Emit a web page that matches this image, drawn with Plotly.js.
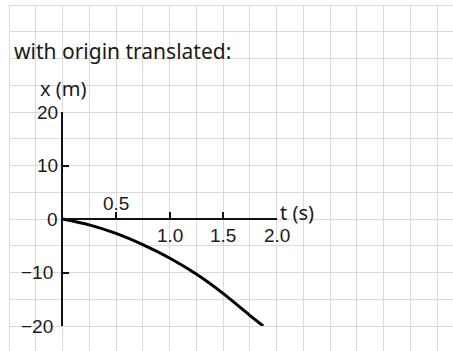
<!DOCTYPE html>
<html>
<head>
<meta charset="utf-8">
<script src="https://cdn.plot.ly/plotly-3.0.1.min.js"></script>
<style>
  html, body { margin: 0; padding: 0; background: #ffffff; }
  #chart { width: 453px; height: 351px; }
</style>
</head>
<body>
<div id="chart"></div>
<script>
// Position x (m) against time t (s), origin moved to the starting point
const timeS = [0, 0.25, 0.5, 0.75, 1.0, 1.25, 1.5, 1.75, 1.875];
const positionM = [0, -1.1, -2.7, -4.8, -7.3, -10.3, -13.9, -18.0, -20];

// Axis ticks and their labels
const tTicks = [0.5, 1.0, 1.5, 2.0];
const tTickText = ['0.5', '1.0', '1.5', '2.0'];
const xTicks = [20, 10, 0, -10, -20];
const xTickText = ['20', '10', '0', '\u221210', '\u221220'];

const titleText = 'with origin translated:';
const xTitle = 'x (m)';
const tTitle = 't (s)';

// Page geometry: square graph paper cells
const W = 453, H = 351;
const CELL = 26.75;
const gridLeft = 9, gridTop = 5;

// Data frame sits on the paper grid: t=0 two cells in, x=0 eight cells down
const x0px = gridLeft + 2 * CELL;          // t = 0
const x1px = x0px + 8 * CELL;              // t = 2
const y0px = gridTop + 8 * CELL;           // x = 0
const yTopPx = y0px - 4 * CELL;            // x = 20
const yBotPx = y0px + 4 * CELL;            // x = -20

const fx = p => p / W;
const fy = p => (H - p) / H;

const handFont = 'Noto Sans, DejaVu Sans, sans-serif';
const tickFont = { family: 'Liberation Sans, Arial, sans-serif', size: 19, color: '#1a1a1a' };

const annotations = [];
tTicks.forEach((t, i) => {
  const above = i === 0;
  annotations.push({
    xref: 'x2', yref: 'y2', x: t, y: 0,
    text: tTickText[i], showarrow: false,
    xanchor: 'center', yanchor: 'middle',
    yshift: above ? 16 : -16,
    font: tickFont
  });
});
xTicks.forEach((v, i) => {
  annotations.push({
    xref: 'x2', yref: 'y2', x: 0, y: v,
    text: xTickText[i], showarrow: false,
    xanchor: 'right', yanchor: 'middle',
    xshift: v < 0 ? -8 : -3,
    font: tickFont
  });
});
annotations.push({
  xref: 'x2', yref: 'y2', x: 0, y: 20,
  text: xTitle, showarrow: false,
  xanchor: 'center', yanchor: 'bottom', yshift: 8,
  font: { family: handFont, size: 20, color: '#1a1a1a' }
});
annotations.push({
  xref: 'x2', yref: 'y2', x: 2, y: 0,
  text: tTitle, showarrow: false,
  xanchor: 'left', yanchor: 'middle', xshift: 1, yshift: 7,
  font: { family: handFont, size: 20, color: '#1a1a1a' }
});

const gridColor = '#dadada';

const data = [
  // invisible anchor so the paper grid subplot is drawn
  { x: [0], y: [0], xaxis: 'x', yaxis: 'y', mode: 'markers',
    marker: { opacity: 0 }, hoverinfo: 'skip', showlegend: false },
  { x: timeS, y: positionM, xaxis: 'x2', yaxis: 'y2', mode: 'lines',
    line: { color: '#000000', width: 3, shape: 'spline', smoothing: 0.8 },
    cliponaxis: false, showlegend: false }
];

const layout = {
  width: W, height: H,
  margin: { l: 0, r: 0, t: 0, b: 0, pad: 0 },
  paper_bgcolor: '#ffffff',
  plot_bgcolor: 'rgba(0,0,0,0)',
  showlegend: false,
  title: {
    text: titleText,
    x: fx(14), xanchor: 'left', xref: 'paper',
    y: fy(52), yanchor: 'middle', yref: 'paper',
    font: { family: handFont, size: 21, color: '#1a1a1a' }
  },
  // graph paper
  xaxis: {
    domain: [fx(gridLeft), 1],
    range: [0, (W - gridLeft) / CELL],
    dtick: 1, tick0: 0,
    showgrid: true, gridcolor: gridColor, gridwidth: 1,
    zeroline: true, zerolinecolor: gridColor, zerolinewidth: 1,
    showticklabels: false, ticks: '', showline: false, fixedrange: true
  },
  yaxis: {
    domain: [0, fy(gridTop)],
    range: [(H - gridTop) / CELL, 0],
    dtick: 1, tick0: 0,
    showgrid: true, gridcolor: gridColor, gridwidth: 1,
    zeroline: true, zerolinecolor: gridColor, zerolinewidth: 1,
    showticklabels: false, ticks: '', showline: false, fixedrange: true
  },
  // data frame
  xaxis2: {
    domain: [fx(x0px), fx(x1px)],
    range: [0, 2],
    anchor: 'free', position: fy(y0px),
    showgrid: false, zeroline: false,
    showline: true, linecolor: '#111111', linewidth: 2,
    ticks: 'inside', ticklen: 6, tickwidth: 2, tickcolor: '#111111',
    tickmode: 'array', tickvals: tTicks,
    showticklabels: false, fixedrange: true
  },
  yaxis2: {
    domain: [fy(yBotPx), fy(yTopPx)],
    range: [-20, 20],
    anchor: 'x2', side: 'left',
    showgrid: false, zeroline: false,
    showline: true, linecolor: '#111111', linewidth: 2,
    ticks: 'inside', ticklen: 6, tickwidth: 2, tickcolor: '#111111',
    tickmode: 'array', tickvals: [20, 10, -10, -20],
    showticklabels: false, fixedrange: true
  },
  annotations: annotations
};

Plotly.newPlot('chart', data, layout, { staticPlot: true, displayModeBar: false });
</script>
</body>
</html>
